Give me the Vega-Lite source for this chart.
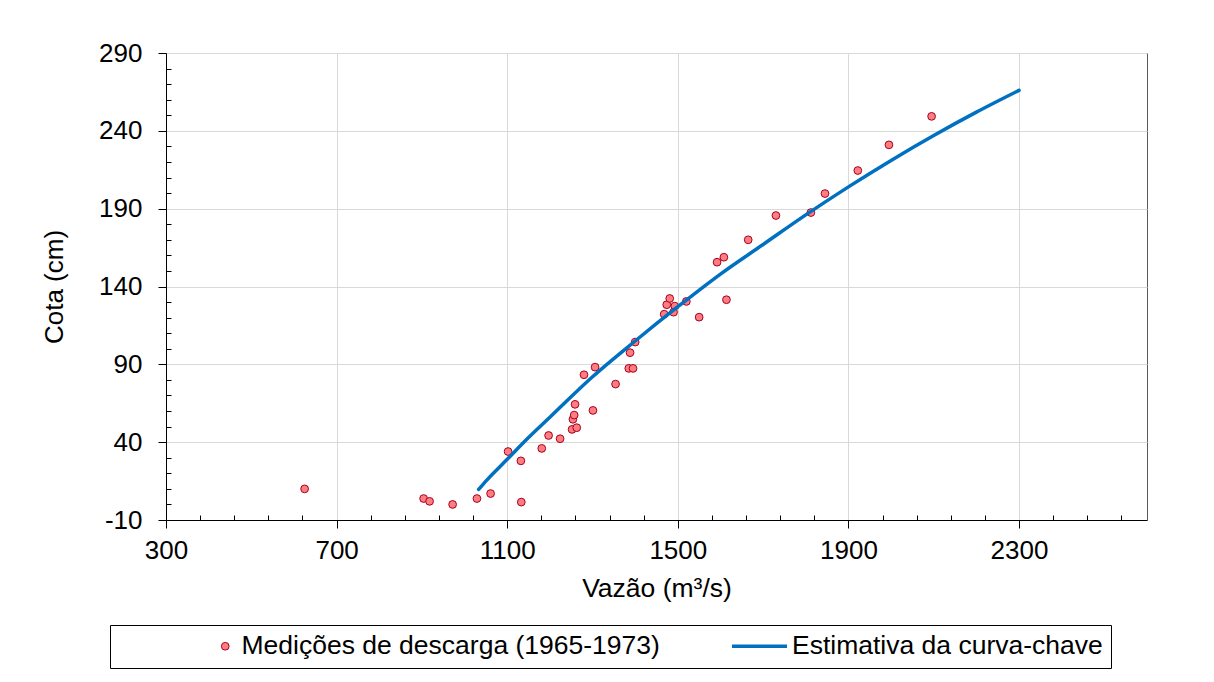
{
  "$schema": "https://vega.github.io/schema/vega-lite/v6.json",
  "width": 981,
  "height": 467,
  "autosize": {"type": "none"},
  "padding": {"left": 166, "top": 53, "right": 67, "bottom": 162},
  "background": "white",
  "config": {"font": "Liberation Sans", "view": {"stroke": "#595959", "strokeWidth": 1}},
  "datasets": {
    "med": [
      {"vazao": 625, "cota": 10, "serie": "Medições de descarga (1965-1973)"},
      {"vazao": 904, "cota": 3.8, "serie": "Medições de descarga (1965-1973)"},
      {"vazao": 918, "cota": 2, "serie": "Medições de descarga (1965-1973)"},
      {"vazao": 972, "cota": 0, "serie": "Medições de descarga (1965-1973)"},
      {"vazao": 1029, "cota": 3.8, "serie": "Medições de descarga (1965-1973)"},
      {"vazao": 1061, "cota": 7, "serie": "Medições de descarga (1965-1973)"},
      {"vazao": 1133, "cota": 1.5, "serie": "Medições de descarga (1965-1973)"},
      {"vazao": 1102, "cota": 34, "serie": "Medições de descarga (1965-1973)"},
      {"vazao": 1132, "cota": 28, "serie": "Medições de descarga (1965-1973)"},
      {"vazao": 1181, "cota": 36, "serie": "Medições de descarga (1965-1973)"},
      {"vazao": 1197, "cota": 44.3, "serie": "Medições de descarga (1965-1973)"},
      {"vazao": 1224, "cota": 42.2, "serie": "Medições de descarga (1965-1973)"},
      {"vazao": 1252, "cota": 48.2, "serie": "Medições de descarga (1965-1973)"},
      {"vazao": 1263, "cota": 49.3, "serie": "Medições de descarga (1965-1973)"},
      {"vazao": 1254, "cota": 54.7, "serie": "Medições de descarga (1965-1973)"},
      {"vazao": 1257, "cota": 57.4, "serie": "Medições de descarga (1965-1973)"},
      {"vazao": 1259, "cota": 64.3, "serie": "Medições de descarga (1965-1973)"},
      {"vazao": 1301, "cota": 60.4, "serie": "Medições de descarga (1965-1973)"},
      {"vazao": 1280, "cota": 83.3, "serie": "Medições de descarga (1965-1973)"},
      {"vazao": 1306, "cota": 88.2, "serie": "Medições de descarga (1965-1973)"},
      {"vazao": 1354, "cota": 77.3, "serie": "Medições de descarga (1965-1973)"},
      {"vazao": 1385, "cota": 87.4, "serie": "Medições de descarga (1965-1973)"},
      {"vazao": 1395, "cota": 87.4, "serie": "Medições de descarga (1965-1973)"},
      {"vazao": 1388, "cota": 97.5, "serie": "Medições de descarga (1965-1973)"},
      {"vazao": 1400, "cota": 104.3, "serie": "Medições de descarga (1965-1973)"},
      {"vazao": 1468, "cota": 122.2, "serie": "Medições de descarga (1965-1973)"},
      {"vazao": 1474, "cota": 128.3, "serie": "Medições de descarga (1965-1973)"},
      {"vazao": 1481, "cota": 132.3, "serie": "Medições de descarga (1965-1973)"},
      {"vazao": 1493, "cota": 127.4, "serie": "Medições de descarga (1965-1973)"},
      {"vazao": 1490, "cota": 123.5, "serie": "Medições de descarga (1965-1973)"},
      {"vazao": 1520, "cota": 130.4, "serie": "Medições de descarga (1965-1973)"},
      {"vazao": 1550, "cota": 120.3, "serie": "Medições de descarga (1965-1973)"},
      {"vazao": 1614, "cota": 131.5, "serie": "Medições de descarga (1965-1973)"},
      {"vazao": 1592, "cota": 155.6, "serie": "Medições de descarga (1965-1973)"},
      {"vazao": 1608, "cota": 158.8, "serie": "Medições de descarga (1965-1973)"},
      {"vazao": 1665, "cota": 170, "serie": "Medições de descarga (1965-1973)"},
      {"vazao": 1730, "cota": 185.6, "serie": "Medições de descarga (1965-1973)"},
      {"vazao": 1812, "cota": 187.5, "serie": "Medições de descarga (1965-1973)"},
      {"vazao": 1845, "cota": 199.7, "serie": "Medições de descarga (1965-1973)"},
      {"vazao": 1922, "cota": 214.5, "serie": "Medições de descarga (1965-1973)"},
      {"vazao": 1995, "cota": 231, "serie": "Medições de descarga (1965-1973)"},
      {"vazao": 2095, "cota": 249.3, "serie": "Medições de descarga (1965-1973)"}
    ],
    "curva": [
      {"vazao": 1033, "cota": 9.6},
      {"vazao": 1050, "cota": 15},
      {"vazao": 1100, "cota": 29},
      {"vazao": 1150, "cota": 43},
      {"vazao": 1200, "cota": 56},
      {"vazao": 1300, "cota": 82},
      {"vazao": 1400, "cota": 105},
      {"vazao": 1500, "cota": 127},
      {"vazao": 1600, "cota": 148},
      {"vazao": 1700, "cota": 167},
      {"vazao": 1800, "cota": 186},
      {"vazao": 1900, "cota": 204},
      {"vazao": 2000, "cota": 221},
      {"vazao": 2100, "cota": 237},
      {"vazao": 2200, "cota": 252},
      {"vazao": 2300, "cota": 266}
    ]
  },
  "layer": [
    {
      "data": {"name": "med"},
      "mark": {"type": "point", "filled": true, "opacity": 1},
      "encoding": {
        "x": {
          "field": "vazao", "type": "quantitative",
          "scale": {"domain": [300, 2600], "nice": false, "zero": false},
          "axis": {
            "values": [300, 700, 1100, 1500, 1900, 2300],
            "title": "Vazão (m³/s)", "labelExpr": "'' + datum.value",
            "grid": true, "gridColor": "#D9D9D9", "gridWidth": 1,
            "domainColor": "#000000", "tickColor": "#000000", "tickSize": 8,
            "labelFontSize": 26, "labelColor": "#000000", "labelPadding": 9, "labelFlush": false, "labelOverlap": false,
            "titleFontSize": 26.5, "titleFontWeight": "normal", "titleColor": "#000000", "titlePadding": 12
          }
        },
        "y": {
          "field": "cota", "type": "quantitative",
          "scale": {"domain": [-10, 290], "nice": false, "zero": false},
          "axis": {
            "values": [-10, 40, 90, 140, 190, 240, 290],
            "title": "Cota (cm)", "labelExpr": "'' + datum.value",
            "grid": true, "gridColor": "#D9D9D9", "gridWidth": 1,
            "domainColor": "#000000", "tickColor": "#000000", "tickSize": 8,
            "labelFontSize": 26, "labelColor": "#000000", "labelPadding": 16, "labelFlush": false, "labelOverlap": false,
            "titleFontSize": 26, "titleFontWeight": "normal", "titleColor": "#000000", "titlePadding": 31
          }
        },
        "color": {
          "field": "serie", "type": "nominal",
          "scale": {"domain": ["Medições de descarga (1965-1973)", "Estimativa da curva-chave"], "range": ["#FF7C80", "#0070C0"]},
          "legend": {
            "title": "\u00a0", "titleOrient": "left", "titleFontSize": 10, "titlePadding": 94,
            "orient": "none", "legendX": -56, "legendY": 572, "direction": "horizontal",
            "labelFontSize": 26.5, "labelColor": "#000000", "labelLimit": 700, "labelOffset": 3,
            "clipHeight": 26, "padding": 8, "strokeColor": "#000000", "columnPadding": 70
          }
        },
        "stroke": {
          "field": "serie", "type": "nominal",
          "scale": {"domain": ["Medições de descarga (1965-1973)", "Estimativa da curva-chave"], "range": ["#A50021", "#0070C0"]}
        },
        "shape": {
          "field": "serie", "type": "nominal",
          "scale": {"domain": ["Medições de descarga (1965-1973)", "Estimativa da curva-chave"], "range": ["circle", "stroke"]}
        },
        "size": {
          "field": "serie", "type": "nominal",
          "scale": {"type": "ordinal", "domain": ["Medições de descarga (1965-1973)", "Estimativa da curva-chave"], "range": [60, 3025]}
        },
        "strokeWidth": {
          "field": "serie", "type": "nominal",
          "scale": {"type": "ordinal", "domain": ["Medições de descarga (1965-1973)", "Estimativa da curva-chave"], "range": [1, 3.5]}
        }
      }
    },
    {
      "data": {"name": "curva"},
      "mark": {"type": "line", "strokeWidth": 3.5, "interpolate": "monotone", "strokeCap": "round", "color": "#0070C0"},
      "encoding": {
        "x": {
          "field": "vazao", "type": "quantitative",
          "axis": {
            "orient": "top", "offset": -467,
            "values": [380, 460, 540, 620, 780, 860, 940, 1020, 1180, 1260, 1340, 1420, 1580, 1660, 1740, 1820, 1980, 2060, 2140, 2220, 2380, 2460, 2540],
            "tickSize": 5, "tickColor": "#000000", "labels": false, "domain": false, "grid": false, "title": null
          }
        },
        "y": {
          "field": "cota", "type": "quantitative",
          "axis": {
            "orient": "right", "offset": -981,
            "values": [0, 10, 20, 30, 50, 60, 70, 80, 100, 110, 120, 130, 150, 160, 170, 180, 200, 210, 220, 230, 250, 260, 270, 280],
            "tickSize": 5, "tickColor": "#000000", "labels": false, "domain": false, "grid": false, "title": null
          }
        }
      }
    }
  ],
  "resolve": {"axis": {"x": "independent", "y": "independent"}}
}
